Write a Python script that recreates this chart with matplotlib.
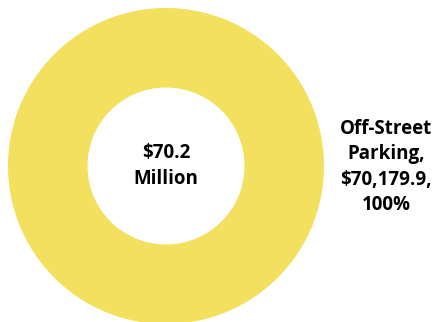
import matplotlib.pyplot as plt

# data
categories = ['Off-Street Parking']
values = [70179.9]  # thousands
total_label = '$70.2\nMillion'
colors = ['#F2E05E']

fig = plt.figure(figsize=(4.35, 3.22), dpi=100)
ax = fig.add_axes([0, 0, 1, 1])

# pie in pixel coords, y going down
ax.pie(values, colors=colors, radius=158, center=(166, 166), startangle=90,
       counterclock=False, wedgeprops=dict(width=79.5, edgecolor='none'))
ax.set_xlim(0, 435)
ax.set_ylim(322, 0)
ax.set_aspect('equal')
ax.axis('off')

ax.text(166, 166, total_label, ha='center', va='center', fontsize=13.5,
        fontweight='bold', family='Open Sans', linespacing=1.35)

total = sum(values)
for cat, v in zip(categories, values):
    lab = '{},\n${:,.1f},\n{:.0%}'.format(cat.replace(' ', '\n', 1), v, v / total)
    ax.text(386, 167, lab, ha='center', va='center', fontsize=13.5,
            fontweight='bold', family='Open Sans', linespacing=1.35)

fig.savefig('out.png', dpi=100)
